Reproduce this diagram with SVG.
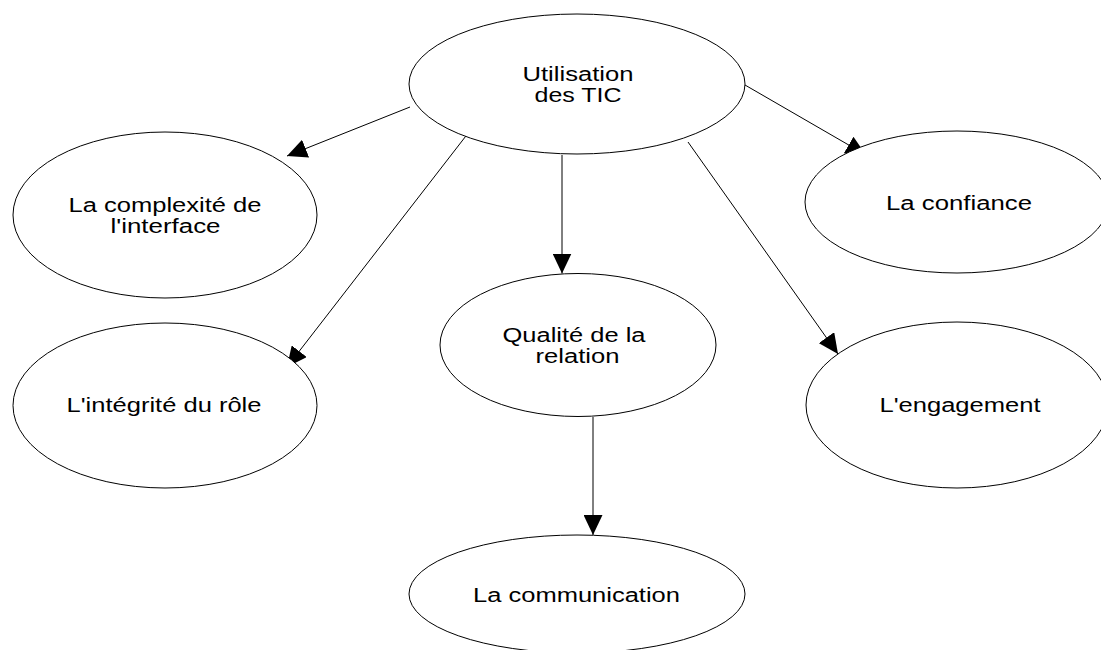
<svg xmlns="http://www.w3.org/2000/svg" width="1101" height="650" viewBox="0 0 1101 650">
<style>
.node ellipse{fill:#fff;stroke:#000;stroke-width:1}
.node text{font-family:"Liberation Sans",Arial,sans-serif;font-size:20px;fill:#000;text-anchor:middle}
.edges line{stroke:#000;stroke-width:1;marker-end:url(#arr)}
</style>
<defs>
<marker id="arr" markerUnits="userSpaceOnUse" viewBox="0 0 20 19" markerWidth="20" markerHeight="19" refX="20" refY="9.5" orient="auto">
<path d="M0,0 L20,9.5 L0,19 Z" fill="#000"/>
</marker>
</defs>
<rect width="1101" height="650" fill="#fff"/>
<g class="edges">
<line x1="410" y1="107" x2="287" y2="156"/>
<line x1="469" y1="132" x2="287" y2="367"/>
<line x1="562" y1="155" x2="562" y2="273.5"/>
<line x1="745" y1="85" x2="866" y2="155"/>
<line x1="688" y1="142" x2="838" y2="354"/>
<line x1="593" y1="417" x2="593" y2="535"/>
</g>
<g id="tic" class="node">
<ellipse cx="577" cy="84" rx="168" ry="70"/>
<text x="578" y="81" textLength="111" lengthAdjust="spacingAndGlyphs">Utilisation</text>
<text x="578" y="102" textLength="87" lengthAdjust="spacingAndGlyphs">des TIC</text>
</g>
<g id="complexite" class="node">
<ellipse cx="165" cy="215" rx="152" ry="83"/>
<text x="165" y="212" textLength="193" lengthAdjust="spacingAndGlyphs">La complexité de</text>
<text x="165.5" y="233" textLength="110" lengthAdjust="spacingAndGlyphs">l'interface</text>
</g>
<g id="integrite" class="node">
<ellipse cx="165" cy="405.5" rx="152" ry="82.5"/>
<text x="164" y="412" textLength="195" lengthAdjust="spacingAndGlyphs">L'intégrité du rôle</text>
</g>
<g id="confiance" class="node">
<ellipse cx="957" cy="202" rx="152" ry="71"/>
<text x="959" y="210" textLength="146" lengthAdjust="spacingAndGlyphs">La confiance</text>
</g>
<g id="engagement" class="node">
<ellipse cx="957" cy="405" rx="151" ry="83"/>
<text x="960" y="412" textLength="161" lengthAdjust="spacingAndGlyphs">L'engagement</text>
</g>
<g id="qualite" class="node">
<ellipse cx="578" cy="345" rx="138" ry="71.5"/>
<text x="574" y="342" textLength="143" lengthAdjust="spacingAndGlyphs">Qualité de la</text>
<text x="577.5" y="363" textLength="84" lengthAdjust="spacingAndGlyphs">relation</text>
</g>
<g id="communication" class="node">
<ellipse cx="577" cy="594" rx="168" ry="59"/>
<text x="576.5" y="602" textLength="207" lengthAdjust="spacingAndGlyphs">La communication</text>
</g>
</svg>
